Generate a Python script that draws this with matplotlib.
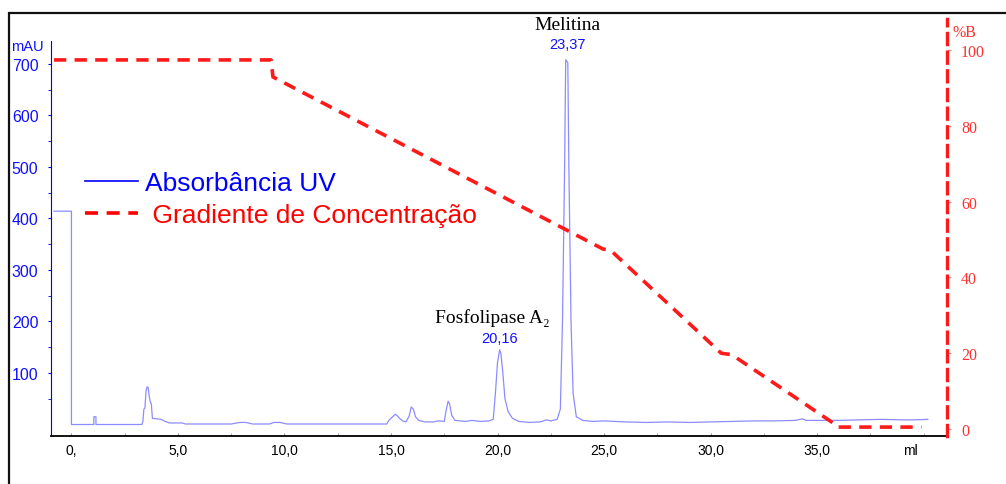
import numpy as np
import matplotlib
matplotlib.use("Agg")
import matplotlib.pyplot as plt
from matplotlib.lines import Line2D
from matplotlib.patches import Rectangle

# cromatograma (ml, mAU)
vol = [-0.82, 0.0, 0.0, 1.05, 1.05, 1.15, 1.15, 3.3, 3.35, 3.4, 3.45, 3.5, 3.55, 3.6,
       3.65, 3.7, 3.75, 3.8, 4.0, 4.2, 4.4, 4.6, 5.0, 5.2, 5.35, 7.5, 7.9, 8.2, 8.5,
       9.3, 9.5, 9.8, 10.1, 14.8, 14.9, 15.05, 15.2, 15.3, 15.4, 15.55, 15.7, 15.85,
       15.95, 16.05, 16.15, 16.3, 16.6, 17.0, 17.2, 17.5, 17.6, 17.68, 17.75, 17.85,
       18.0, 18.5, 18.8, 19.2, 19.6, 19.8, 19.9, 20.0, 20.1, 20.16, 20.25, 20.35, 20.5,
       20.7, 21.0, 21.5, 22.0, 22.3, 22.5, 22.8, 22.95, 23.05, 23.15, 23.2, 23.3, 23.35,
       23.45, 23.55, 23.7, 24.0, 24.5, 25.0, 25.5, 26.0, 27.0, 28.0, 29.0, 30.0, 31.0,
       32.0, 33.0, 34.0, 34.3, 34.5, 35.0, 36.0, 37.0, 38.0, 39.0, 39.5, 40.2]
mau = [414, 414, 0, 0, 15, 15, 0, 0, 5, 30, 32, 65, 73, 72,
       55, 44, 40, 12, 11, 10, 6, 3, 3, 3, 1, 1, 4, 4, 1,
       1, 4, 4, 1, 1, 8, 14, 20, 17, 12, 7, 5, 16,
       34, 30, 15, 8, 5, 5, 7, 6, 30, 45, 40, 18,
       8, 6, 8, 6, 7, 10, 60, 120, 145, 138, 100, 50, 25,
       12, 6, 4, 5, 9, 7, 10, 30, 200, 500, 708, 702, 500,
       200, 60, 15, 8, 6, 7, 6, 5, 4, 5, 4, 5, 6,
       7, 7, 8, 11, 8, 8, 8, 9, 10, 9, 9, 10]

# gradiente (%B)
grad_x = [-0.82, 9.37, 9.46, 24.95, 25.3, 30.5, 31.0, 35.75, 35.9, 39.9]
grad_y = [97.4, 97.4, 92.9, 47.5, 47.2, 20.0, 19.6, 1.6, 0.5, 0.5]

x_ticks = [0, 5, 10, 15, 20, 25, 30, 35]
x_labels = ["0,", "5,0", "10,0", "15,0", "20,0", "25,0", "30,0", "35,0"]
y_ticks = [100, 200, 300, 400, 500, 600, 700]
b_ticks = [0, 20, 40, 60, 80, 100]

BLUE = "#1010ff"
LINE_BLUE = "#8c8cff"
RED = "#ff1a1a"
SERIF = ["Liberation Serif", "DejaVu Serif"]

plt.rcParams["font.family"] = ["Liberation Sans", "DejaVu Sans"]

fig = plt.figure(figsize=(10.06, 4.85), dpi=100)
ax = fig.add_axes([51 / 1006, 48 / 485, 896 / 1006, 417 / 485])

ax.plot(vol, mau, color=LINE_BLUE, linewidth=0.9)
ax.set_xlim(-0.96, 41.1)
ax.set_ylim(-22.3, 787)

for s in ["top", "right"]:
    ax.spines[s].set_visible(False)
ax.spines["left"].set_color("#0000ee")
ax.spines["left"].set_bounds(-22.3, 745)
ax.spines["bottom"].set_linewidth(1.3)

ax.set_xticks(x_ticks)
ax.set_xticklabels(x_labels, fontsize=10)
ax.set_xticks([2.5, 7.5, 12.5, 17.5, 22.5, 27.5, 32.5, 37.5, 40], minor=True)
ax.tick_params(axis="x", which="both", direction="in", length=2, color="#999999", pad=5)
ax.set_yticks(y_ticks)
ax.set_yticks([50, 150, 250, 350, 450, 550, 650], minor=True)
ax.tick_params(axis="y", which="both", direction="out", length=2, color="#0000ee",
               labelcolor=BLUE, labelsize=11.5, pad=7)
ax.text(39.4, -0.016, "ml", transform=ax.get_xaxis_transform(), ha="center", va="top",
        fontsize=10)
ax.text(-0.026, 0.935, "mAU", transform=ax.transAxes, ha="center", va="center",
        fontsize=10.5, color=BLUE)

ax2 = ax.twinx()
ax2.plot(grad_x, grad_y, color=RED, linewidth=2.6, linestyle=(0, (3.4, 2.3)))
ax2.set_ylim(-1.85, 108.2)
for s in ["top", "left", "bottom"]:
    ax2.spines[s].set_visible(False)
ax2.spines["right"].set_color(RED)
ax2.spines["right"].set_linewidth(2.4)
ax2.spines["right"].set_linestyle((0, (3.3, 2.3)))
ax2.set_yticks(b_ticks)
ax2.set_yticklabels([str(v) for v in b_ticks], family=SERIF, fontsize=11.5)
ax2.tick_params(axis="y", direction="out", length=3, color="#ff8080",
                labelcolor="#ff3030", pad=7)
ax2.text(1.006, 0.968, "%B", transform=ax2.transAxes, ha="left", va="center",
         fontsize=11.5, color="#ff3030", family=SERIF)

# picos
ax.text(23.3, 725, "23,37", ha="center", va="bottom", fontsize=10.5, color=BLUE)
ax.text(23.3, 760, "Melitina", ha="center", va="bottom", fontsize=14, family=SERIF)
ax.text(20.1, 155, "20,16", ha="center", va="bottom", fontsize=10.5, color=BLUE)
ax.text(19.75, 192, "Fosfolipase A₂", ha="center", va="bottom", fontsize=14, family=SERIF)

handles = [Line2D([], [], color="blue", linewidth=1.2),
           Line2D([], [], color="red", linewidth=2.6, linestyle=(0, (3.6, 2.4)))]
ax.legend(handles, ["Absorbância UV", " Gradiente de Concentração"],
          loc="upper left", bbox_to_anchor=(61 / 1006, 1 - 148 / 485),
          bbox_transform=fig.transFigure, frameon=False, fontsize=19,
          handlelength=2.0, handletextpad=0.3, labelspacing=0.33,
          labelcolor=["blue", "red"])

# moldura
fig.add_artist(Rectangle((9 / 1006, -0.1), 1.2, (471 / 485) + 0.1,
                         transform=fig.transFigure, fill=False,
                         edgecolor="#111111", linewidth=1.6))

fig.savefig("out.png", dpi=100)
